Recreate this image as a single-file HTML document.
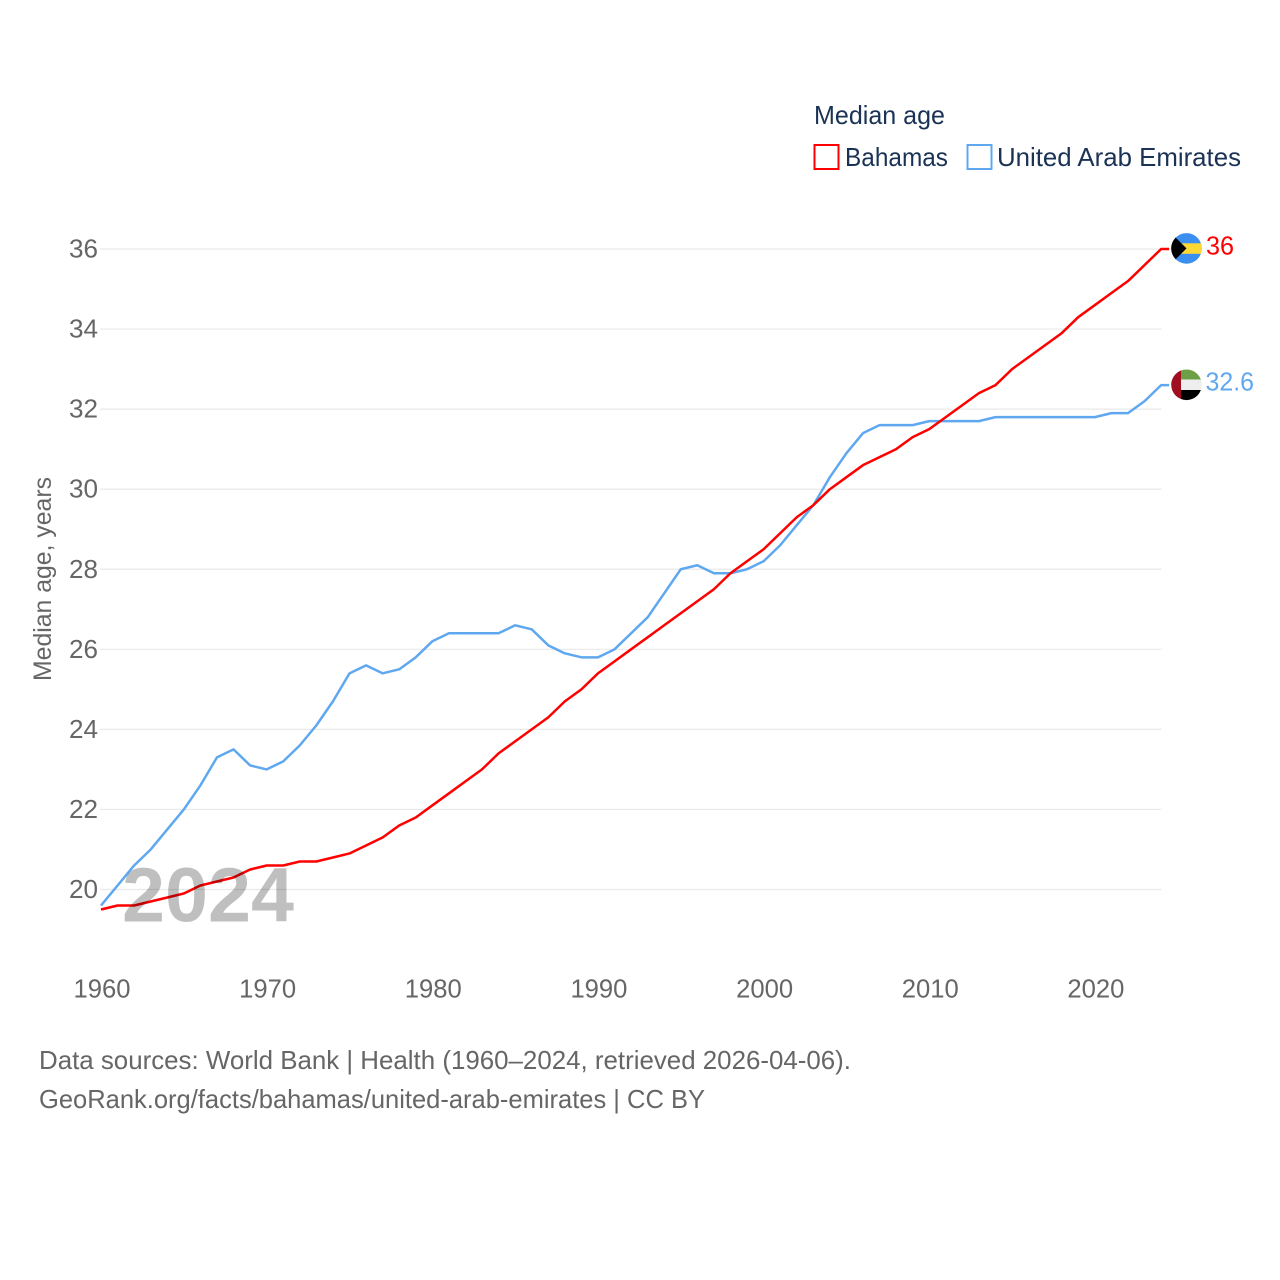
<!DOCTYPE html>
<html>
<head>
<meta charset="utf-8">
<title>Median age: Bahamas and United Arab Emirates</title>
<style>
html,body{margin:0;padding:0;background:#fff;}
svg{display:block;}
text{font-family:"Liberation Sans",sans-serif;}
</style>
</head>
<body>
<svg id="chart" width="1280" height="1280" viewBox="0 0 1280 1280" xmlns="http://www.w3.org/2000/svg">
  <rect width="1280" height="1280" fill="#fff"/>
  <g id="grid"></g>
  <g id="yticks"></g>
  <g id="xticks"></g>
  <text transform="translate(51,681) rotate(-90)" font-size="25" fill="#666" textLength="204" lengthAdjust="spacingAndGlyphs">Median age, years</text>
  <g id="series"></g>
  <text x="122" y="921.500" font-size="77" font-weight="bold" fill="#000" fill-opacity="0.25" textLength="172" lengthAdjust="spacingAndGlyphs">2024</text>

  <text x="814" y="124" font-size="26" fill="#1a3355" textLength="131" lengthAdjust="spacingAndGlyphs">Median age</text>
  <g>
    <rect x="814.500" y="145" width="24" height="24" fill="none" stroke="#ff0000" stroke-width="2"/>
    <text x="845" y="166" font-size="26" fill="#1a3355" textLength="103" lengthAdjust="spacingAndGlyphs">Bahamas</text>
  </g>
  <g>
    <rect x="967.500" y="145" width="24" height="24" fill="none" stroke="#5fa8f0" stroke-width="2"/>
    <text x="997" y="166" font-size="26" fill="#1a3355" textLength="244" lengthAdjust="spacingAndGlyphs">United Arab Emirates</text>
  </g>

  <defs>
    <clipPath id="clip-bs"><circle cx="1186.500" cy="248.400" r="15.300"/></clipPath>
    <clipPath id="clip-ae"><circle cx="1186.500" cy="384.800" r="15.300"/></clipPath>
  </defs>
  <g clip-path="url(#clip-bs)">
    <rect x="1171" y="233" width="31" height="32" fill="#3a8ff0"/>
    <rect x="1171" y="243.300" width="31" height="10.500" fill="#fdd835"/>
    <polygon points="1171,233 1186.500,248.400 1171,264" fill="#000"/>
  </g>
  <g clip-path="url(#clip-ae)">
    <rect x="1181" y="369" width="21" height="10.500" fill="#6d9f45"/>
    <rect x="1181" y="379.500" width="21" height="10.500" fill="#eeeeee"/>
    <rect x="1181" y="390" width="21" height="11" fill="#000"/>
    <rect x="1171" y="369" width="10" height="32" fill="#a00f1f"/>
  </g>
  <text x="1206" y="254.500" font-size="26" fill="#ff0000" textLength="28" lengthAdjust="spacingAndGlyphs">36</text>
  <text x="1205.500" y="390.500" font-size="26" fill="#5fa8f0" textLength="48.500" lengthAdjust="spacingAndGlyphs">32.6</text>

  <text x="39" y="1069" font-size="26" fill="#666" textLength="812" lengthAdjust="spacingAndGlyphs">Data sources: World Bank | Health (1960–2024, retrieved 2026-04-06).</text>
  <text x="39" y="1108" font-size="26" fill="#666" textLength="666" lengthAdjust="spacingAndGlyphs">GeoRank.org/facts/bahamas/united-arab-emirates | CC BY</text>
</svg>
<script>
const startYear = 1960;
const bahamas = [19.5,19.6,19.6,19.7,19.8,19.9,20.1,20.2,20.3,20.5,20.6,20.6,20.7,20.7,20.8,20.9,21.1,21.3,21.6,21.8,22.1,22.4,22.7,23.0,23.4,23.7,24.0,24.3,24.7,25.0,25.4,25.7,26.0,26.3,26.6,26.9,27.2,27.5,27.9,28.2,28.5,28.9,29.3,29.6,30.0,30.3,30.6,30.8,31.0,31.3,31.5,31.8,32.1,32.4,32.6,33.0,33.3,33.6,33.9,34.3,34.6,34.9,35.2,35.6,36.0];
const uae = [19.6,20.1,20.6,21.0,21.5,22.0,22.6,23.3,23.5,23.1,23.0,23.2,23.6,24.1,24.7,25.4,25.6,25.4,25.5,25.8,26.2,26.4,26.4,26.4,26.4,26.6,26.5,26.1,25.9,25.8,25.8,26.0,26.4,26.8,27.4,28.0,28.1,27.9,27.9,28.0,28.2,28.6,29.1,29.6,30.3,30.9,31.4,31.6,31.6,31.6,31.7,31.7,31.7,31.7,31.8,31.8,31.8,31.8,31.8,31.8,31.8,31.9,31.9,32.2,32.6];
const yTicks = [20,22,24,26,28,30,32,34,36];
const xTicks = [1960,1970,1980,1990,2000,2010,2020];

const NS = 'http://www.w3.org/2000/svg';
const xScale = year => 101 + (year - 1960) * 16.565;
const yScale = v => 889.5 - (v - 20) * 40.03;

const gridGroup = document.getElementById('grid');
const yGroup = document.getElementById('yticks');
const xGroup = document.getElementById('xticks');
const seriesGroup = document.getElementById('series');

yTicks.forEach(t => {
  const line = document.createElementNS(NS, 'line');
  
  
  line.setAttribute('x1', 100);
  line.setAttribute('x2', 1161.5);
  line.setAttribute('y1', yScale(t));
  line.setAttribute('y2', yScale(t));
  line.setAttribute('stroke', '#e9e9e9');
  line.setAttribute('stroke-width', 1.2);
  gridGroup.appendChild(line);

  const label = document.createElementNS(NS, 'text');
  
  
  label.setAttribute('x', 98);
  label.setAttribute('y', yScale(t) + 8.5);
  label.setAttribute('text-anchor', 'end');
  label.setAttribute('font-size', 26);
  label.setAttribute('fill', '#666');
  label.setAttribute('textLength', 29);
  label.setAttribute('lengthAdjust', 'spacingAndGlyphs');
  label.textContent = t;
  yGroup.appendChild(label);
});

xTicks.forEach(t => {
  const label = document.createElementNS(NS, 'text');
  
  
  label.setAttribute('x', xScale(t) + 1);
  label.setAttribute('y', 997.5);
  label.setAttribute('text-anchor', 'middle');
  label.setAttribute('font-size', 26);
  label.setAttribute('fill', '#666');
  label.setAttribute('textLength', 57);
  label.setAttribute('lengthAdjust', 'spacingAndGlyphs');
  label.textContent = t;
  xGroup.appendChild(label);
});

function drawSeries(values, color, name) {
  let pts = values.map((v, i) => xScale(startYear + i).toFixed(2) + ',' + yScale(v).toFixed(2));
  const last = values[values.length - 1];
  pts.push((xScale(startYear + values.length - 1) + 8).toFixed(2) + ',' + yScale(last).toFixed(2));
  const line = document.createElementNS(NS, 'polyline');
  
  
  line.setAttribute('points', pts.join(' '));
  line.setAttribute('fill', 'none');
  line.setAttribute('stroke', color);
  line.setAttribute('stroke-width', 2.5);
  line.setAttribute('stroke-linejoin', 'round');
  seriesGroup.appendChild(line);
}

drawSeries(uae, '#5fa8f0', 'line-uae');
drawSeries(bahamas, '#ff0000', 'line-bahamas');
</script>
</body>
</html>
